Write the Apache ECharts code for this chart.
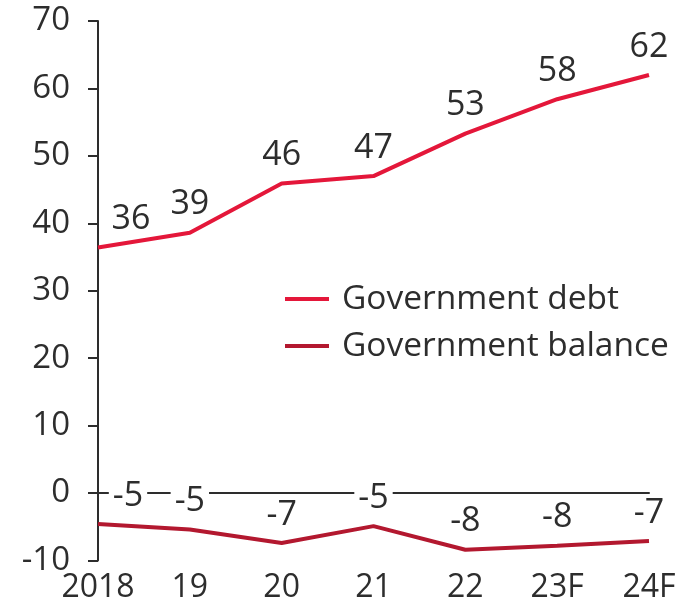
<!DOCTYPE html>
<html>
<head>
<meta charset="utf-8">
<script src="https://cdn.jsdelivr.net/npm/echarts@6/dist/echarts.min.js"></script>
<style>
  html, body { margin: 0; padding: 0; background: #ffffff; }
  #chart { width: 700px; height: 605px; }
</style>
</head>
<body>
<div id="chart"></div>
<script>
// Years on the horizontal axis (F = forecast)
const categories = ['2018', '19', '20', '21', '22', '23F', '24F'];

// Government debt, % of GDP
const debtValues = [36.4, 38.6, 45.9, 47.0, 53.3, 58.4, 62.0];

// Government balance, % of GDP
const balanceValues = [-4.6, -5.4, -7.4, -4.9, -8.4, -7.8, -7.1];

// Value axis range and step
const yMin = -10;
const yMax = 70;
const yStep = 10;

const seriesNames = ['Government debt', 'Government balance'];

const FONT = '"Open Sans", "DejaVu Sans", sans-serif';
const TEXT = '#2d2d2d';
const DEBT_RED = '#e4173a';
const BALANCE_RED = '#b3182f';

const labelStyle = {
  show: true,
  position: 'top',
  distance: 11,
  fontFamily: FONT,
  fontSize: 34,
  color: TEXT,
  backgroundColor: '#ffffff',
  padding: [0, 4],
  formatter: function (p) { return Math.round(p.value).toString(); }
};

// Push the first label of a series to the right, clear of the value axis
function shiftFirst(dx) {
  return function (params) {
    if (params.dataIndex === 0) {
      return { dx: dx };
    }
    return {};
  };
}

const chart = echarts.init(document.getElementById('chart'), null, { renderer: 'canvas' });

chart.setOption({
  animation: false,
  backgroundColor: '#ffffff',
  grid: { left: 98, right: 51, top: 21, bottom: 44.5, containLabel: false },
  legend: {
    data: seriesNames,
    orient: 'vertical',
    left: 285,
    top: 281,
    padding: 0,
    itemGap: 11,
    itemWidth: 44,
    itemHeight: 4,
    icon: 'rect',
    textStyle: {
      fontFamily: FONT,
      fontSize: 33.5,
      lineHeight: 36,
      color: TEXT,
      padding: [0, 0, 0, 8]
    }
  },
  xAxis: [
    {
      type: 'category',
      data: categories,
      boundaryGap: false,
      axisLine: { show: false, onZero: false },
      axisTick: { show: false },
      axisLabel: {
        interval: 0,
        fontFamily: FONT,
        fontSize: 32,
        color: TEXT,
        margin: 11
      },
      splitLine: { show: false }
    },
    {
      // zero reference line across the plot
      type: 'category',
      data: categories,
      boundaryGap: false,
      position: 'bottom',
      axisLine: { show: true, onZero: true, lineStyle: { color: '#2d2d2d', width: 2 } },
      axisTick: { show: false },
      axisLabel: { show: false },
      splitLine: { show: false }
    }
  ],
  yAxis: {
    type: 'value',
    min: yMin,
    max: yMax,
    interval: yStep,
    axisLine: { show: true, lineStyle: { color: '#2d2d2d', width: 2 } },
    axisTick: { show: true, inside: false, length: 10, lineStyle: { color: '#2d2d2d', width: 2 } },
    axisLabel: {
      fontFamily: FONT,
      fontSize: 33,
      color: TEXT,
      margin: 28
    },
    splitLine: { show: false }
  },
  series: [
    {
      name: seriesNames[0],
      type: 'line',
      data: debtValues,
      symbol: 'circle',
      symbolSize: 0.01,
      showSymbol: true,
      lineStyle: { color: DEBT_RED, width: 4 },
      itemStyle: { color: DEBT_RED },
      label: Object.assign({}, labelStyle, { backgroundColor: 'transparent' }),
      labelLayout: shiftFirst(33),
      z: 3
    },
    {
      name: seriesNames[1],
      type: 'line',
      data: balanceValues,
      symbol: 'circle',
      symbolSize: 0.01,
      showSymbol: true,
      lineStyle: { color: BALANCE_RED, width: 4 },
      itemStyle: { color: BALANCE_RED },
      label: labelStyle,
      labelLayout: shiftFirst(30),
      z: 3
    }
  ]
});
</script>
</body>
</html>
